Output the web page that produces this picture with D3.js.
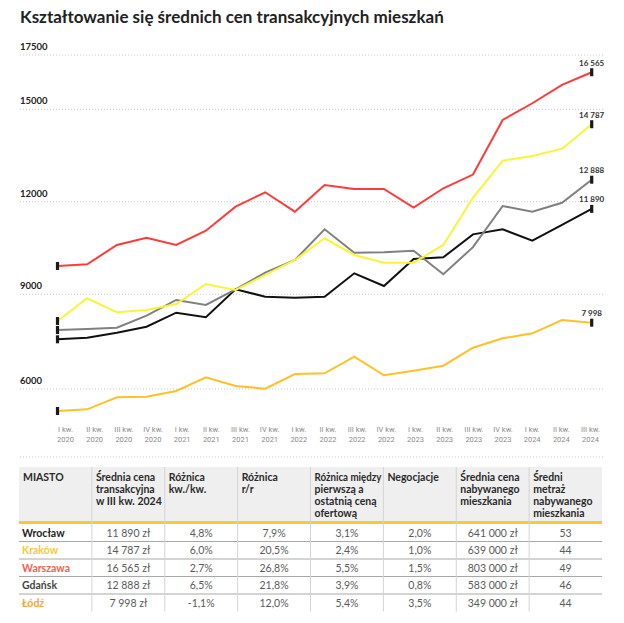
<!DOCTYPE html>
<html>
<head>
<meta charset="utf-8">
<script src="https://cdn.jsdelivr.net/npm/d3@7"></script>
<style>
    body { margin: 0; background: #fff; }
    svg { display: block; font-family: "Lato", "Open Sans", sans-serif; }
</style>
</head>
<body>
<div id="wykres"></div>
<script>
const quarters = [
    "I kw. 2020", "II kw. 2020", "III kw. 2020", "IV kw. 2020",
    "I kw. 2021", "II kw. 2021", "III kw. 2021", "IV kw. 2021",
    "I kw. 2022", "II kw. 2022", "III kw. 2022", "IV kw. 2022",
    "I kw. 2023", "II kw. 2023", "III kw. 2023", "IV kw. 2023",
    "I kw. 2024", "II kw. 2024", "III kw. 2024"
];

const yTicks = [6000, 9000, 12000, 15000, 17500];

const wroclaw = [7430, 7485, 7656, 7861, 8340, 8183, 9141, 8887, 8853, 8887, 9688, 9254, 10177, 10235, 11020, 11193, 10803, 11345, 11890];
const krakow = [8056, 8833, 8354, 8432, 8638, 9322, 9117, 9630, 10143, 10885, 10314, 10051, 10051, 10656, 12271, 13540, 13701, 13950, 14787];
const warszawa = [9938, 9996, 10656, 10906, 10656, 11145, 11966, 12459, 11795, 12709, 12572, 12572, 11932, 12596, 13064, 14932, 15504, 16130, 16565];
const gdansk = [7748, 7782, 7827, 8237, 8775, 8604, 9141, 9709, 10143, 11193, 10393, 10407, 10461, 9654, 10582, 11990, 11795, 12101, 12888];
const lodz = [4977, 5035, 5446, 5466, 5661, 6130, 5832, 5740, 6243, 6267, 6835, 6199, 6356, 6527, 7141, 7464, 7635, 8087, 7998];

const cities = ["Wrocław", "Kraków", "Warszawa", "Gdańsk", "Łódź"];

const tableHeader = [
    ["MIASTO"],
    ["Średnia cena", "transakcyjna", "w III kw. 2024"],
    ["Różnica", "kw./kw."],
    ["Różnica", "r/r"],
    ["Różnica między", "pierwszą a", "ostatnią ceną", "ofertową"],
    ["Negocjacje"],
    ["Średnia cena", "nabywanego", "mieszkania"],
    ["Średni", "metraż", "nabywanego", "mieszkania"]
];

const tableRows = [
    ["11 890 zł", "4,8%", "7,9%", "3,1%", "2,0%", "641 000 zł", "53"],
    ["14 787 zł", "6,0%", "20,5%", "2,4%", "1,0%", "639 000 zł", "44"],
    ["16 565 zł", "2,7%", "26,8%", "5,5%", "1,5%", "803 000 zł", "49"],
    ["12 888 zł", "6,5%", "21,8%", "3,9%", "0,8%", "583 000 zł", "46"],
    ["7 998 zł", "-1,1%", "12,0%", "5,4%", "3,5%", "349 000 zł", "44"]
];

document.addEventListener("DOMContentLoaded", function() {
    init();
});

function init() {
    const svg = d3.select("#wykres")
        .append("svg")
        .attr("width", 624)
        .attr("height", 623);

    svg.append("text")
        .attr("x", 20)
        .attr("y", 23)
        .attr("font-family", "Lato")
        .attr("font-weight", 700)
        .attr("font-size", 17)
        .attr("fill", "#222")
        .text("Kształtowanie się średnich cen transakcyjnych mieszkań");

    drawChart(svg);
    drawTable(svg);
}

function drawChart(svg) {
    const series = [
        { name: "Łódź", values: lodz, color: "#ffc125" },
        { name: "Wrocław", values: wroclaw, color: "#111" },
        { name: "Gdańsk", values: gdansk, color: "#808080" },
        { name: "Kraków", values: krakow, color: "#f8f536" },
        { name: "Warszawa", values: warszawa, color: "#ff3a3a" }
    ];

    const x = d3.scalePoint().domain(quarters).range([57.5, 591.7]);
    // podpisy kwartałów są w oryginale lekko przesunięte względem punktów
    const xLabels = d3.scalePoint().domain(quarters).range([65, 590]);

    // linie danych i siatka na oryginale nie mają wspólnej skali
    const y = d3.scaleLinear().domain([6000, 17500]).range([381.1, 44.9]);
    const yGrid = d3.scaleLinear().domain(yTicks).range([389, 294.3, 201.7, 109.3, 55]);

    const grid = svg.append("g");
    grid.selectAll("line")
        .data(yTicks)
        .enter().append("line")
        .attr("x1", 20)
        .attr("x2", 605)
        .attr("y1", d => yGrid(d))
        .attr("y2", d => yGrid(d))
        .attr("stroke", "#c8c8c8")
        .attr("stroke-dasharray", "1,2");

    grid.selectAll("text")
        .data(yTicks)
        .enter().append("text")
        .attr("x", 20)
        .attr("y", d => yGrid(d) - 5)
        .attr("font-size", 9.5)
        .attr("font-weight", 700)
        .attr("fill", "#222")
        .text(d => d);

    svg.append("line")
        .attr("x1", 20)
        .attr("x2", 605)
        .attr("y1", 457)
        .attr("y2", 457)
        .attr("stroke", "#c8c8c8")
        .attr("stroke-dasharray", "1,2");

    const xAxis = svg.append("g").attr("transform", "translate(0,432)")
        .call(d3.axisBottom(xLabels).tickSize(0).tickPadding(0).tickFormat(""));
    xAxis.select(".domain").remove();
    xAxis.selectAll(".tick text").remove();
    xAxis.selectAll(".tick").each(function(d) {
        const parts = d.split(" ");
        const t = d3.select(this).append("text")
            .attr("text-anchor", "middle")
            .attr("font-family", "Roboto")
            .attr("font-size", 7.5)
            .attr("fill", "#8a8a8a");
        t.append("tspan").attr("x", 0).attr("y", 0).text(parts.slice(0, 2).join(" "));
        t.append("tspan").attr("x", 0).attr("y", 9.5).text(parts[2]);
    });

    const line = d3.line()
        .x((d, i) => x(quarters[i]))
        .y(d => y(d));

    svg.selectAll(".seria")
        .data(series)
        .enter().append("path")
        .attr("class", "seria")
        .attr("fill", "none")
        .attr("stroke", d => d.color)
        .attr("stroke-width", 2)
        .attr("d", d => line(d.values));

    const last = quarters.length - 1;
    const marks = [];
    series.forEach(s => {
        marks.push({ q: quarters[0], v: s.values[0] });
        marks.push({ q: quarters[last], v: s.values[last] });
    });

    svg.selectAll(".znacznik")
        .data(marks)
        .enter().append("rect")
        .attr("class", "znacznik")
        .attr("x", d => x(d.q) - 1.6)
        .attr("y", d => y(d.v) - 4)
        .attr("width", 3.2)
        .attr("height", 8)
        .attr("fill", "#1a1a1a");

    const fmt = d3.formatLocale({ decimal: ",", thousands: " ", grouping: [3], currency: ["", " zł"] }).format(",d");

    svg.selectAll(".etykieta")
        .data(series)
        .enter().append("text")
        .attr("class", "etykieta")
        .attr("x", x(quarters[last]))
        .attr("y", d => y(d.values[last]) - 6.5)
        .attr("text-anchor", "middle")
        .attr("font-size", 8)
        .attr("font-weight", 700)
        .attr("fill", "#333")
        .text(d => fmt(d.values[last]));
}

function drawTable(svg) {
    const cityColors = ["#222", "#f7c934", "#f4604c", "#444", "#f7a53a"];

    const col = d3.scaleBand().domain(d3.range(tableHeader.length)).range([19, 602]);
    const row = d3.scaleBand().domain(d3.range(cities.length)).range([524, 611.5]);

    const table = svg.append("g");

    table.append("rect")
        .attr("x", 19)
        .attr("y", 467)
        .attr("width", 583)
        .attr("height", 55)
        .attr("fill", "#efefef");

    table.append("rect")
        .attr("x", 19)
        .attr("y", 521)
        .attr("width", 583)
        .attr("height", 3)
        .attr("fill", "#f7c934");

    table.selectAll(".sep")
        .data(d3.range(1, cities.length))
        .enter().append("line")
        .attr("class", "sep")
        .attr("x1", 19)
        .attr("x2", 602)
        .attr("y1", d => row(d))
        .attr("y2", d => row(d))
        .attr("stroke", "#a8a8a8")
        .attr("stroke-width", 1);

    table.selectAll(".kol")
        .data(d3.range(1, tableHeader.length))
        .enter().append("line")
        .attr("class", "kol")
        .attr("x1", d => col(d))
        .attr("x2", d => col(d))
        .attr("y1", 467)
        .attr("y2", 611.5)
        .attr("stroke", "#d4d4d4")
        .attr("stroke-width", 1);

    tableHeader.forEach((lines, i) => {
        const t = table.append("text")
            .attr("font-size", 10.5)
            .attr("font-weight", 700)
            .attr("fill", "#2a2a2a");
        lines.forEach((l, j) => {
            const span = t.append("tspan")
                .attr("x", col(i) + 4)
                .attr("y", 480.5 + j * 12)
                .text(l);
            // w oryginale za długie nagłówki są ściśnięte do szerokości kolumny
            const maxW = col.bandwidth() - 6;
            if (span.node().getComputedTextLength() > maxW) {
                span.attr("textLength", maxW).attr("lengthAdjust", "spacingAndGlyphs");
            }
        });
    });

    cities.forEach((c, i) => {
        const yy = row(i) + row.bandwidth() / 2 + 3.8;
        table.append("text")
            .attr("x", 22)
            .attr("y", yy)
            .attr("font-size", 10.5)
            .attr("font-weight", 700)
            .attr("fill", cityColors[i])
            .text(c);

        tableRows[i].forEach((v, j) => {
            table.append("text")
                .attr("x", col(j + 1) + col.bandwidth() / 2)
                .attr("y", yy)
                .attr("text-anchor", "middle")
                .attr("font-size", 10.5)
                .attr("fill", "#5a5a5a")
                .text(v);
        });
    });
}
</script>
</body>
</html>
